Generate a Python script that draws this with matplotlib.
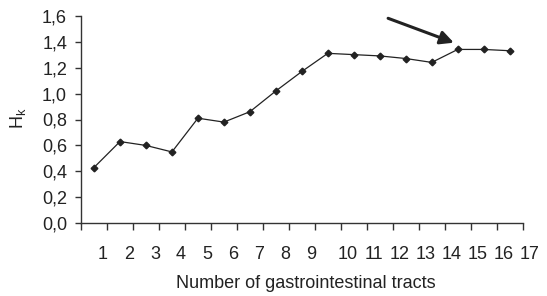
import numpy as np
import matplotlib
matplotlib.use("Agg")
import matplotlib.pyplot as plt

plt.rcParams['font.family'] = ['Liberation Sans', 'DejaVu Sans']

# Data
tracts = np.arange(1, 18)
hk_values = [0.43, 0.63, 0.60, 0.55, 0.81, 0.78, 0.86, 1.02, 1.17,
             1.31, 1.30, 1.29, 1.27, 1.24, 1.34, 1.34, 1.33]
tick_labels = [str(i) for i in range(1, 18)]
y_ticks = [0.0, 0.2, 0.4, 0.6, 0.8, 1.0, 1.2, 1.4, 1.6]
y_tick_labels = ["0,0", "0,2", "0,4", "0,6", "0,8", "1,0", "1,2", "1,4", "1,6"]

fig = plt.figure(figsize=(5.47, 2.96), dpi=100)
ax = fig.add_axes([81/547, 1 - 223.3/296, (522.7 - 81)/547, (223.3 - 15.7)/296])

ink = '#222222'
ax.plot(tracts, hk_values, color=ink, lw=0.9, marker='D', markersize=3.4,
        markerfacecolor=ink, markeredgecolor=ink)

ax.set_xlim(0.5, 17.5)
ax.set_ylim(0, 1.6)
for s in ['top', 'right']:
    ax.spines[s].set_visible(False)
for s in ['left', 'bottom']:
    ax.spines[s].set_color('#333333')
    ax.spines[s].set_linewidth(1.0)

# category boundary ticks
ax.set_xticks(np.arange(0.5, 18, 1.0))
ax.set_xticklabels([])
ax.tick_params(axis='x', which='major', length=5, width=1, color='#333333', direction='out')

# labels (placed slightly offset, as in the original)
offsets = np.where(tracts < 10, 0.35, 0.77)
for x, lab in zip(tracts + offsets, tick_labels):
    ax.text(x, -0.244, lab, ha='center', va='center', fontsize=13, color=ink,
            transform=ax.transData, clip_on=False)

ax.set_yticks(y_ticks)
ax.set_yticklabels(y_tick_labels, fontsize=13, color=ink)
ax.tick_params(axis='y', length=4, width=1, color='#333333', pad=6, direction='out')

# arrow
ax.annotate('', xy=(14.85, 1.392), xytext=(12.32, 1.58),
            arrowprops=dict(arrowstyle='-|>', lw=2.2, color=ink, mutation_scale=20,
                            shrinkA=0, shrinkB=0), annotation_clip=False)

fig.text(306/547, 1 - 283/296, "Number of gastrointestinal tracts", ha='center', va='center',
         fontsize=13, color=ink)
fig.text(18.5/547, 1 - 118.5/296, r"H$_\mathregular{k}$", rotation=90, ha='center', va='center',
         fontsize=13, color=ink)

fig.savefig('out.png', dpi=100)
